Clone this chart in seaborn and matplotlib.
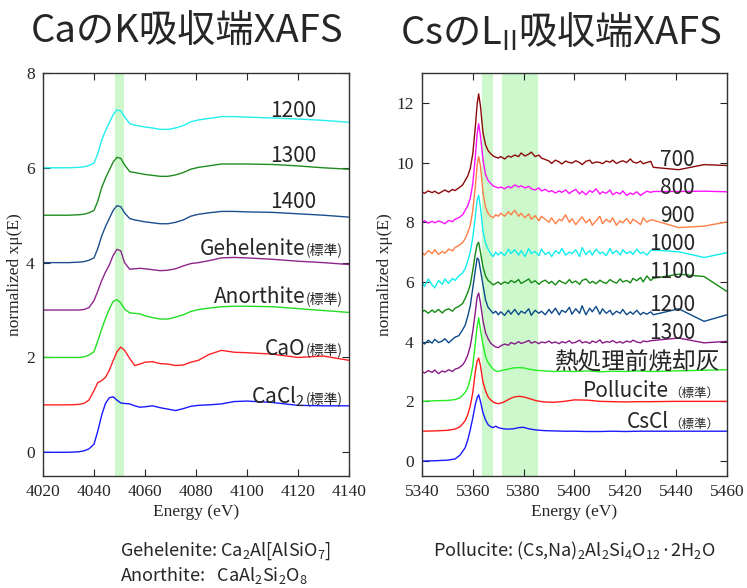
import numpy as np
import seaborn as sns
from matplotlib import pyplot as plt

sns.set_style("ticks", {"xtick.direction": "in", "ytick.direction": "in"})
plt.rcParams['font.family'] = ['Liberation Serif', 'DejaVu Serif']
plt.rcParams['mathtext.default'] = 'regular'
JP = ['Noto Sans CJK JP', 'DejaVu Sans']

# %% Ca K-edge (left panel)
ca_energy = [4020, 4030, 4034, 4036, 4038, 4040, 4041.5, 4043, 4044.5, 4046, 4047.5,
             4049, 4050.5, 4052, 4054, 4056, 4058, 4060, 4063, 4066, 4069, 4072, 4075,
             4078, 4081, 4085, 4090, 4095, 4100, 4110, 4120, 4130, 4140]
ca_1200 = [6.0, 6.0, 6.01, 6.02, 6.05, 6.1, 6.3, 6.58, 6.78, 6.95, 7.12, 7.22, 7.2, 7.08,
           6.93, 6.9, 6.88, 6.86, 6.84, 6.81, 6.81, 6.84, 6.89, 6.97, 7.01, 7.04, 7.08,
           7.08, 7.07, 7.05, 7.03, 7.0, 6.96]
ca_1300 = [5.0, 5.0, 5.01, 5.02, 5.05, 5.1, 5.3, 5.58, 5.78, 5.95, 6.12, 6.22, 6.2, 6.06,
           5.92, 5.9, 5.88, 5.86, 5.84, 5.82, 5.82, 5.85, 5.9, 5.97, 6.01, 6.04, 6.08,
           6.08, 6.08, 6.07, 6.04, 6.0, 5.97]
ca_1400 = [4.0, 4.0, 4.01, 4.02, 4.05, 4.1, 4.3, 4.56, 4.76, 4.93, 5.1, 5.2, 5.18, 5.05,
           4.93, 4.9, 4.88, 4.86, 4.84, 4.82, 4.82, 4.85, 4.9, 4.98, 5.02, 5.05, 5.08,
           5.08, 5.07, 5.06, 5.03, 5.0, 4.96]
ca_gehlenite = [3.0, 3.0, 3.0, 3.01, 3.05, 3.2, 3.4, 3.62, 3.8, 3.95, 4.15, 4.28, 4.25,
                4.0, 3.86, 3.87, 3.88, 3.87, 3.85, 3.83, 3.84, 3.87, 3.93, 3.98, 4.0,
                4.04, 4.1, 4.11, 4.1, 4.07, 4.03, 4.0, 3.96]
ca_anorthite = [2.0, 2.0, 2.0, 2.01, 2.05, 2.12, 2.35, 2.6, 2.82, 3.02, 3.18, 3.22, 3.15,
                3.02, 2.94, 2.93, 2.92, 2.88, 2.84, 2.81, 2.81, 2.85, 2.9, 2.97, 3.01,
                3.04, 3.07, 3.08, 3.08, 3.07, 3.03, 2.99, 2.95]
ca_cao = [1.0, 1.0, 1.01, 1.03, 1.1, 1.3, 1.47, 1.51, 1.58, 1.73, 1.93, 2.12, 2.22, 2.15,
          1.98, 1.83, 1.86, 1.9, 1.91, 1.87, 1.86, 1.83, 1.84, 1.9, 1.94, 2.06, 2.15,
          2.11, 2.1, 2.07, 2.0, 2.03, 1.94]
ca_cacl2 = [0.0, 0.0, 0.01, 0.03, 0.07, 0.17, 0.45, 0.78, 1.03, 1.15, 1.17, 1.1, 1.04,
            1.03, 1.02, 0.98, 0.95, 0.96, 0.98, 0.94, 0.91, 0.88, 0.92, 0.97, 0.99, 1.0,
            1.02, 1.07, 1.08, 1.05, 0.99, 0.98, 0.98]
ca_band = (4048.3, 4051.8)

# %% Cs L2-edge (right panel), noisy scans
cs_pre = [5340, 5341, 5342.5, 5344, 5345, 5346.5, 5348, 5349, 5350.5, 5352, 5353, 5354.5, 5356]
cs_edge = [5357, 5358, 5359, 5360, 5361, 5361.7, 5362.3, 5363, 5364, 5365, 5366, 5367,
           5368, 5369, 5370]
cs_post = [5371, 5372.5, 5374, 5375, 5376.5, 5378, 5379, 5380.5, 5382, 5383, 5384.5, 5386,
           5387, 5388.5, 5390, 5391, 5392.5, 5394, 5395, 5396.5, 5398, 5399, 5400.5, 5402,
           5403, 5404.5, 5406, 5407, 5408.5, 5410, 5411, 5412.5, 5414, 5415, 5416.5, 5418,
           5419, 5420.5, 5422, 5423, 5424.5, 5426, 5427, 5428.5, 5430]
cs_tail = [5431, 5441, 5451, 5460]
cs_energy = cs_pre + cs_edge + cs_post + cs_tail

cs_700 = ([9.02, 8.97, 9.05, 8.99, 9.04, 8.96, 9.03, 9.08, 9.01, 9.10, 9.06, 9.15, 9.25]
          + [9.4, 9.55, 9.8, 10.3, 11.2, 11.95, 12.3, 11.9, 11.0, 10.6, 10.4, 10.3, 10.22, 10.18, 10.15]
          + [10.20, 10.12, 10.22, 10.18, 10.25,
             10.20, 10.32, 10.22, 10.28, 10.35,
             10.20, 10.25, 10.15, 10.10, 10.05,
             9.97, 10.08, 10.02, 9.95, 10.05,
             10.00, 9.98, 10.06, 10.00, 9.93,
             10.04, 10.08, 9.97, 10.02, 10.00,
             9.96, 10.05, 10.01, 10.08, 9.97,
             10.03, 10.06, 10.00, 10.12, 10.02,
             9.98, 10.05, 9.96, 10.00, 10.04]
          + [9.84, 9.76, 9.93, 9.90])
cs_800 = ([8.00, 8.05, 7.97, 8.03, 7.98, 8.04, 8.00, 7.95, 8.06, 8.02, 8.10, 8.15, 8.25]
          + [8.4, 8.55, 8.8, 9.3, 10.2, 10.95, 11.3, 10.9, 10.1, 9.6, 9.4, 9.3, 9.22, 9.18, 9.15]
          + [9.18, 9.12, 9.20, 9.15, 9.25,
             9.18, 9.22, 9.15, 9.20, 9.12,
             9.08, 9.15, 9.05, 9.10, 9.02,
             9.06, 8.98, 9.05, 9.00, 9.08,
             8.96, 9.03, 9.10, 8.95, 9.04,
             8.92, 9.06, 9.00, 9.12, 8.94,
             9.02, 8.97, 9.08, 8.92, 9.00,
             8.95, 9.05, 8.90, 8.98, 8.93,
             9.02, 8.90, 8.96, 9.04, 9.00]
          + [9.03, 9.03, 9.04, 9.02])
cs_900 = ([7.00, 6.90, 7.05, 6.95, 7.08, 6.92, 7.02, 6.96, 7.10, 7.04, 7.15, 7.22, 7.32]
          + [7.45, 7.65, 7.9, 8.4, 9.2, 9.9, 10.2, 9.9, 9.0, 8.5, 8.3, 8.2, 8.15, 8.25, 8.2]
          + [8.30, 8.20, 8.35, 8.25, 8.40,
             8.20, 8.30, 8.15, 8.28, 8.10,
             8.22, 8.05, 8.20, 8.10, 8.00,
             8.15, 7.95, 8.10, 8.05, 8.25,
             8.00, 8.12, 7.92, 8.08, 8.18,
             7.98, 8.10, 7.90, 8.05, 8.20,
             7.95, 8.10, 8.00, 8.15, 7.90,
             8.05, 7.98, 8.12, 7.95, 8.10,
             8.02, 7.92, 8.15, 8.00, 8.08]
          + [8.07, 7.82, 7.87, 8.01])
cs_1000 = ([6.00, 5.85, 6.10, 5.90, 5.80, 6.05, 5.92, 6.10, 5.95, 6.12, 6.05, 6.20, 6.30]
           + [6.45, 6.7, 7.0, 7.5, 8.2, 8.75, 8.9, 8.5, 7.7, 7.3, 7.1, 6.95, 6.85, 7.0, 6.9]
           + [7.00, 6.88, 7.10, 6.95, 7.08,
              6.90, 7.05, 6.85, 7.12, 6.95,
              7.02, 6.88, 7.10, 6.92, 7.00,
              6.85, 7.05, 6.95, 7.12, 6.90,
              7.00, 6.95, 7.08, 6.85, 7.15,
              6.92, 7.05, 6.90, 7.10, 6.95,
              7.00, 6.88, 7.12, 6.95, 7.05,
              6.90, 7.08, 6.95, 7.02, 6.92,
              7.10, 6.95, 7.00, 6.90, 7.05]
           + [7.07, 7.01, 6.82, 6.98])
cs_1100 = ([5.00, 5.05, 4.95, 5.06, 4.98, 5.08, 4.96, 5.05, 5.10, 5.02, 5.12, 5.18, 5.28]
           + [5.45, 5.65, 5.9, 6.4, 6.95, 7.25, 7.33, 7.0, 6.5, 6.2, 6.05, 5.98, 5.9, 5.95, 6.0]
           + [5.92, 6.00, 5.95, 6.05, 5.98,
              6.08, 5.95, 6.02, 6.10, 5.97,
              6.04, 5.92, 6.00, 6.06, 5.95,
              6.02, 5.90, 6.05, 6.00, 5.94,
              6.08, 5.97, 6.03, 5.92, 6.05,
              6.10, 5.96, 6.02, 5.94, 6.06,
              6.00, 5.95, 6.08, 6.02, 5.96,
              6.10, 6.00, 6.05, 5.97, 6.12,
              6.04, 6.15, 6.00, 6.20, 6.05]
           + [6.12, 6.26, 6.18, 5.68])
cs_1200 = ([4.00, 3.92, 4.05, 3.95, 4.08, 3.97, 4.02, 4.10, 3.96, 4.08, 4.15, 4.20, 4.40]
           + [4.55, 4.85, 5.2, 5.8, 6.4, 6.8, 6.75, 6.4, 5.9, 5.4, 5.15, 5.05, 4.95, 5.02, 4.9]
           + [5.00, 4.88, 5.05, 4.92, 5.08,
              4.90, 5.02, 4.95, 5.10, 4.88,
              5.05, 4.95, 5.02, 4.90, 5.08,
              4.95, 5.12, 4.90, 5.05, 4.98,
              5.15, 4.92, 5.10, 4.95, 5.20,
              4.90, 5.12, 5.00, 5.18, 4.92,
              5.10, 4.95, 5.05, 4.90, 5.02,
              4.95, 5.08, 4.90, 5.00, 4.92,
              5.05, 4.90, 4.98, 4.92, 5.00]
           + [4.90, 5.10, 4.68, 4.90])
cs_1300 = ([3.00, 2.95, 3.03, 2.97, 3.05, 2.93, 3.02, 2.98, 3.06, 3.00, 3.08, 3.12, 3.22]
           + [3.35, 3.55, 3.85, 4.35, 5.0, 5.5, 5.63, 5.3, 4.7, 4.3, 4.1, 3.95, 3.88, 3.82, 3.8]
           + [3.86, 3.92, 3.88, 3.97, 3.92,
              4.00, 3.94, 3.98, 4.04, 3.95,
              4.00, 3.93, 3.99, 3.96, 4.02,
              3.95, 3.99, 3.93, 4.00, 3.96,
              4.03, 3.95, 3.98, 4.05, 3.96,
              4.00, 3.94, 4.02, 3.97, 4.06,
              3.95, 4.00, 3.98, 4.04, 3.96,
              4.00, 3.95, 4.02, 3.98, 4.05,
              3.99, 3.96, 4.02, 4.00, 4.03]
           + [4.04, 4.12, 3.96, 4.01])

# smooth references
cs_energy_s = [5340, 5345, 5350, 5353, 5355, 5357, 5358, 5359, 5360, 5361, 5361.7, 5362.3,
               5363, 5364, 5365, 5366, 5367, 5368, 5369, 5370, 5372, 5374, 5376, 5378, 5380,
               5382, 5385, 5388, 5392, 5396, 5400, 5405, 5410, 5415, 5420, 5425, 5430, 5440,
               5450, 5460]
cs_ash = [2.00, 2.02, 2.03, 2.06, 2.12, 2.30, 2.45, 2.75, 3.2, 3.95, 4.5, 4.8, 4.4, 3.9, 3.5,
          3.3, 3.18, 3.08, 3.02, 3.0, 3.05, 3.08, 3.12, 3.13, 3.12, 3.08, 3.04, 3.02, 3.0,
          3.01, 3.0, 3.02, 2.99, 3.01, 3.0, 3.02, 3.0, 3.02, 3.04, 3.06]
cs_pollucite = [1.00, 1.01, 1.03, 1.07, 1.15, 1.35, 1.55, 1.85, 2.3, 3.0, 3.35, 3.45, 3.2,
                2.65, 2.35, 2.15, 2.05, 1.98, 1.94, 1.92, 1.97, 2.06, 2.14, 2.17, 2.15, 2.1,
                2.02, 1.98, 1.97, 2.0, 2.05, 2.04, 2.0, 1.99, 1.98, 1.99, 1.99, 2.0, 2.0, 2.0]
cs_cscl = [0.00, 0.01, 0.03, 0.07, 0.20, 0.45, 0.70, 1.05, 1.45, 1.9, 2.12, 2.22, 2.0, 1.62,
           1.38, 1.22, 1.15, 1.12, 1.17, 1.12, 1.08, 1.07, 1.08, 1.12, 1.13, 1.08, 1.04,
           1.02, 1.01, 1.0, 1.0, 0.99, 0.99, 1.0, 0.99, 1.0, 1.0, 1.0, 1.0, 1.0]
cs_bands = [(5363.6, 5367.8), (5371.5, 5385.5)]

for s in [cs_700, cs_800, cs_900, cs_1000, cs_1100, cs_1200, cs_1300]:
    assert len(s) == len(cs_energy), len(s)

BAND = '#ccf8cc'

fig = plt.figure(figsize=(7.47, 5.88), dpi=100)
ax1 = fig.add_axes([0.0576, 0.1905, 0.4094, 0.6854])
ax2 = fig.add_axes([0.5649, 0.1905, 0.4083, 0.6854])

left_series = [(ca_1200, '#22eeee'), (ca_1300, '#1e8c1e'), (ca_1400, '#1c4f8f'),
               (ca_gehlenite, '#8e268e'), (ca_anorthite, '#22dd22'), (ca_cao, '#ff2222'),
               (ca_cacl2, '#1a1aff')]
right_series = [(cs_energy, cs_700, '#8b0a0a'), (cs_energy, cs_800, '#ff11ff'),
                (cs_energy, cs_900, '#ff7f45'), (cs_energy, cs_1000, '#11eeee'),
                (cs_energy, cs_1100, '#138a13'), (cs_energy, cs_1200, '#0d4a8c'),
                (cs_energy, cs_1300, '#8a1a8a'), (cs_energy_s, cs_ash, '#22ee22'),
                (cs_energy_s, cs_pollucite, '#ff1a1a'), (cs_energy_s, cs_cscl, '#1a1aff')]

ax1.axvspan(*ca_band, color=BAND, lw=0, zorder=0)
for vals, c in left_series:
    sns.lineplot(x=ca_energy, y=vals, ax=ax1, color=c, linewidth=1.0, estimator=None, sort=False)

for lo, hi in cs_bands:
    ax2.axvspan(lo, hi, color=BAND, lw=0, zorder=0)
for xs, vals, c in right_series:
    sns.lineplot(x=xs, y=vals, ax=ax2, color=c, linewidth=1.0, estimator=None, sort=False)

ax1.set_xlim(4020, 4140)
ax1.set_ylim(-0.5, 8)
ax1.set_xticks(range(4020, 4141, 20))
ax1.set_yticks(range(0, 9, 2))
ax2.set_xlim(5340, 5460)
ax2.set_ylim(-0.5, 13)
ax2.set_xticks(range(5340, 5461, 20))
ax2.set_yticks(range(0, 13, 2))

for ax in (ax1, ax2):
    ax.tick_params(direction='in', top=True, right=True, length=5, width=0.8,
                   labelsize=12.5, pad=6)
    for sp in ax.spines.values():
        sp.set_linewidth(1.0)
        sp.set_color('#333333')
    ax.set_xlabel('Energy (eV)', fontsize=12.5, labelpad=3)
    ax.set_ylabel('normalized xμ(E)', fontsize=12.5, labelpad=2)

fig.canvas.draw()


def tagged(ax, x, y, main, tag, size=15, tag_size=10, gap=0):
    t = ax.text(x, y, tag, ha='right', va='baseline', fontsize=tag_size, family=JP)
    fig.canvas.draw()
    w = t.get_window_extent().width
    ax.annotate(main, xy=(x, y), xytext=(-w - gap, 0), textcoords='offset pixels',
                ha='right', va='baseline', fontsize=size, family=JP)


for txt, yb in [('1200', 7.07), ('1300', 6.13), ('1400', 5.15)]:
    ax1.text(4127.3, yb, txt, ha='right', va='baseline', fontsize=15, family=JP)
for txt, yb in [('Gehelenite', 4.17), ('Anorthite', 3.15), ('CaO', 2.06), ('CaCl$_2$', 1.03)]:
    tagged(ax1, 4137.8, yb, txt, '(標準)', gap=1)

for txt, yb in [('700', 9.9), ('800', 8.96), ('900', 8.01), ('1000', 7.07),
                ('1100', 6.12), ('1200', 5.04), ('1300', 4.09)]:
    ax2.text(5447.4, yb, txt, ha='right', va='baseline', fontsize=15, family=JP)
ax2.text(5457.2, 3.1, '熱処理前焼却灰', ha='right', va='baseline', fontsize=17, family=JP)
for txt, yb in [('Pollucite', 2.14), ('CsCl', 1.12)]:
    tagged(ax2, 5456.8, yb, txt, '（標準）', tag_size=9, gap=0)

fig.text(187 / 747, 1 - 32 / 588, 'CaのK吸収端XAFS', ha='center', va='center',
         fontsize=27.5, family=JP)
fig.text(561 / 747, 1 - 32 / 588, 'CsのL$_{II}$吸収端XAFS', ha='center', va='center',
         fontsize=27.5, family=JP)

fig.text(120 / 747, 1 - 556 / 588, 'Gehelenite: Ca$_2$Al[AlSiO$_7$]', ha='left',
         va='baseline', fontsize=13, family=JP)
fig.text(120 / 747, 1 - 581 / 588, 'Anorthite:   CaAl$_2$Si$_2$O$_8$', ha='left',
         va='baseline', fontsize=13, family=JP)
fig.text(433 / 747, 1 - 556 / 588, 'Pollucite: (Cs,Na)$_2$Al$_2$Si$_4$O$_{12}$·2H$_2$O',
         ha='left', va='baseline', fontsize=13, family=JP)

fig.savefig('out.png', dpi=100)
